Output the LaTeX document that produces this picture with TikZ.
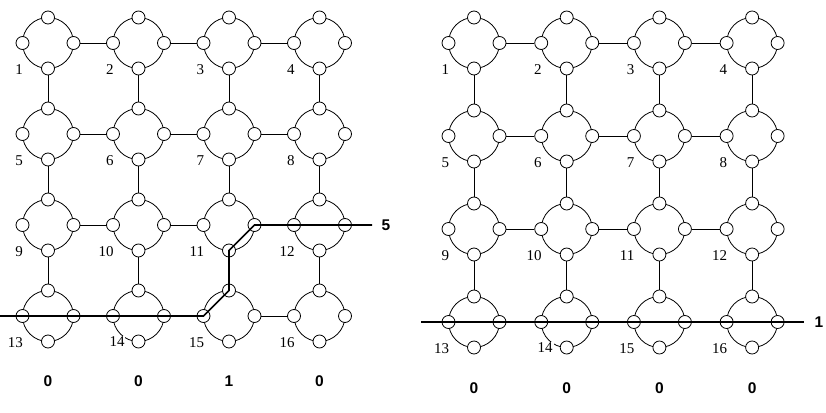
\documentclass[tikz,border=0pt]{standalone}
\usepackage{fontspec}
\setmainfont{Liberation Serif}
\newfontfamily\valfont{Liberation Sans}
\usetikzlibrary{positioning}

\tikzset{
  ring/.style={circle, draw, line width=0.8pt, minimum size=51pt, inner sep=0pt, outer sep=0pt},
  port/.style={circle, draw, fill=white, line width=0.8pt, minimum size=13pt, inner sep=0pt},
  wire/.style={line width=0.8pt},
  cut/.style={line width=1.6pt},
  idx/.style={font=\fontsize{15}{17}\selectfont, inner sep=0.8pt, anchor=east},
  val/.style={font=\valfont\bfseries\fontsize{15.5}{17}\selectfont, inner sep=1.5pt},
}

\begin{document}
\begin{tikzpicture}[x=1pt, y=-1pt]
    \useasboundingbox (0,0) rectangle (826,412);

    % super-nodes with their four ports
    \foreach \g/\x/\dx/\dy in {L/48/90.5/91, R/474/92.7/93} {
      \foreach \r in {0,...,3}
        \foreach \c in {0,...,3} {
          \pgfmathtruncatemacro{\n}{4*\r+\c+1}
          \node[ring] (\g\n) at (\x+\dx*\c, 43+\dy*\r) {};
          \node[port] (\g\n-t) at (\g\n.north) {};
          \node[port] (\g\n-r) at (\g\n.east) {};
          \node[port] (\g\n-b) at (\g\n.south) {};
          \node[port] (\g\n-l) at (\g\n.west) {};
          \ifnum\n=14
            \node[idx, fill=white] (\g\n-num) at ([shift={(-13,26)}]\g\n.center) {\n};
          \else
            \node[idx] (\g\n-num) at ([shift={(-24,27)}]\g\n.center) {\n};
          \fi
        }
      % links
      \foreach \n in {1,2,3,5,6,7,9,10,11,13,14,15} {
        \pgfmathtruncatemacro{\m}{\n+1}
        \draw[wire] (\g\n-r) -- (\g\m-l);
      }
      \foreach \n in {1,...,12} {
        \pgfmathtruncatemacro{\m}{\n+4}
        \draw[wire] (\g\n-b) -- (\g\m-t);
      }
    }

    % cut on the left
    \coordinate (Lin) at (0,316);
    \coordinate (Lout) at (372,225);
    \draw[cut] (Lin) -- (L15-l.center) -- (L15-t.center) -- (L11-b.center)
        -- (L11-r.center) -- (Lout);
    \node[val, right=8pt of Lout] (Lsum) {5};

    % cut on the right
    \coordinate (Rin) at (421,322);
    \coordinate (Rout) at (804,322);
    \draw[cut] (Rin) -- (Rout);
    \node[val, right=9pt of Rout] (Rsum) {1};

    % column values
    \foreach \n/\v in {13/0, 14/0, 15/1, 16/0}
      \node[val] (L\n-val) at ([shift={(0,65)}]L\n.center) {\v};
    \foreach \n/\v in {13/0, 14/0, 15/0, 16/0}
      \node[val] (R\n-val) at ([shift={(0,66)}]R\n.center) {\v};
\end{tikzpicture}
\end{document}
